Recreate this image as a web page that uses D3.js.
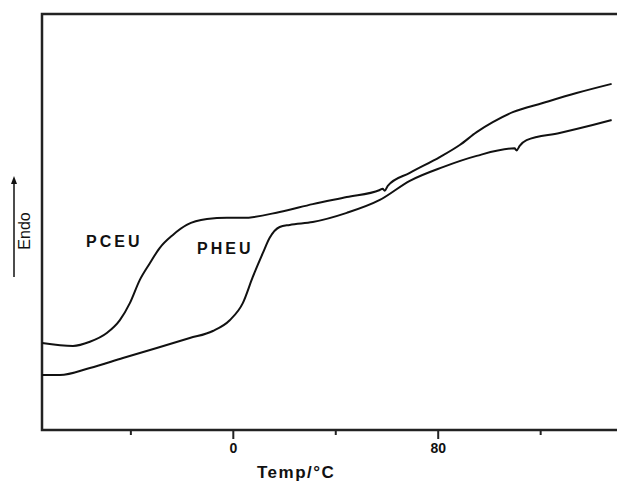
<!DOCTYPE html>
<html>
<head>
<meta charset="utf-8">
<script src="https://cdn.jsdelivr.net/npm/d3@7"></script>
<style>
  body { margin: 0; background: #fff; }
  text { font-family: "Liberation Sans", Arial, sans-serif; font-weight: bold; fill: #111; }
</style>
</head>
<body>
<div id="chart"></div>
<script>
// temperature (°C) and heat flow (arbitrary units, endo up)
const pceuTemp = [-74.5, -62.4, -55.8, -49.2, -44.1, -40.2, -36.3, -32.4, -28.5, -23.4, -18.0, -10.1, -2.3, 3.9, 18.3, 31.2, 44.5, 57.4, 58.5, 59.3, 60.5, 69.1, 80.8, 88.6, 95.2, 101.5, 109.3, 121.0, 134.2, 147.9];
const pceuFlow = [20.9, 20.2, 21.2, 23.3, 26.4, 30.5, 36.1, 40.1, 43.8, 46.9, 49.3, 50.7, 51.0, 51.0, 52.4, 54.3, 56.0, 57.7, 58.0, 57.5, 58.7, 61.8, 65.6, 68.5, 71.6, 74.0, 76.4, 78.6, 81.0, 83.2];

const pheuTemp = [-74.5, -67.5, -55.8, -42.9, -29.7, -16.8, -7.8, -1.2, 3.9, 7.8, 11.7, 14.4, 18.3, 22.2, 31.2, 44.5, 57.4, 69.1, 82.0, 95.2, 110.0, 110.8, 112.0, 114.7, 127.6, 140.5, 147.9];
const pheuFlow = [13.2, 13.2, 14.9, 17.3, 19.7, 22.1, 23.8, 26.4, 30.5, 36.8, 42.5, 46.2, 48.8, 49.3, 50.0, 52.2, 55.3, 59.9, 63.2, 65.9, 67.7, 67.2, 68.3, 69.7, 71.4, 73.3, 74.5];

const majorTicks = [0, 80];
const minorTicks = [-40, 40, 120];

const width = 617, height = 481;
const margin = { top: 14, right: 0, bottom: 51, left: 42 };

const svg = d3.select('#chart').append('svg')
    .attr('width', width)
    .attr('height', height);

const x = d3.scaleLinear()
    .domain([-74.5, 150])
    .range([margin.left, width - margin.right]);

const y = d3.scaleLinear()
    .domain([0, 100])
    .range([height - margin.bottom, margin.top]);

const y0 = y(0);

// minor ticks (no labels)
svg.append('g')
    .attr('transform', `translate(0,${y0})`)
    .call(d3.axisBottom(x).tickValues(minorTicks).tickSize(5).tickFormat(''))
    .call(g => g.select('.domain').remove())
    .call(g => g.selectAll('line').attr('stroke', '#222').attr('stroke-width', 2));

// major ticks
svg.append('g')
    .attr('transform', `translate(0,${y0})`)
    .call(d3.axisBottom(x).tickValues(majorTicks).tickSize(9).tickPadding(4).tickFormat(d3.format('d')))
    .call(g => g.select('.domain').remove())
    .call(g => g.selectAll('line').attr('stroke', '#222').attr('stroke-width', 2))
    .call(g => g.selectAll('text')
        .style('font-size', '14px')
        .style('font-family', '"Liberation Sans", Arial, sans-serif')
        .style('font-weight', 'bold')
        .attr('fill', '#111'));

// frame: left, top, bottom
const frame = d3.path();
frame.moveTo(x.range()[1], y(100));
frame.lineTo(x.range()[0], y(100));
frame.lineTo(x.range()[0], y0);
frame.lineTo(x.range()[1], y0);
svg.append('path')
    .attr('d', frame.toString())
    .attr('fill', 'none')
    .attr('stroke', '#222')
    .attr('stroke-width', 2.5);

const line = d3.line()
    .x(d => x(d[0]))
    .y(d => y(d[1]))
    .curve(d3.curveMonotoneX);

[[pceuTemp, pceuFlow], [pheuTemp, pheuFlow]].forEach(([t, f]) => {
    svg.append('path')
        .datum(d3.zip(t, f))
        .attr('d', line)
        .attr('fill', 'none')
        .attr('stroke', '#111')
        .attr('stroke-width', 2);
});

// curve labels
svg.append('text')
    .attr('x', 86).attr('y', 247)
    .style('font-size', '16px')
    .style('letter-spacing', '3px')
    .text('PCEU');

svg.append('text')
    .attr('x', 197).attr('y', 254)
    .style('font-size', '16px')
    .style('letter-spacing', '3px')
    .text('PHEU');

// x-axis title
svg.append('text')
    .attr('x', 257).attr('y', 478)
    .style('font-size', '17px')
    .style('letter-spacing', '1.5px')
    .text('Temp/°C');

// y-axis title with upward arrow
svg.append('line')
    .attr('x1', 14).attr('x2', 14)
    .attr('y1', 277).attr('y2', 181)
    .attr('stroke', '#111')
    .attr('stroke-width', 1.5);
svg.append('path')
    .attr('d', 'M14,176 L11,184 L17,184 Z')
    .attr('fill', '#111');
svg.append('text')
    .attr('transform', 'translate(16,231) rotate(-90)')
    .attr('text-anchor', 'middle')
    .attr('dy', '0.85em')
    .style('font-size', '16px')
    .style('font-weight', 'normal')
    .text('Endo');
</script>
</body>
</html>
